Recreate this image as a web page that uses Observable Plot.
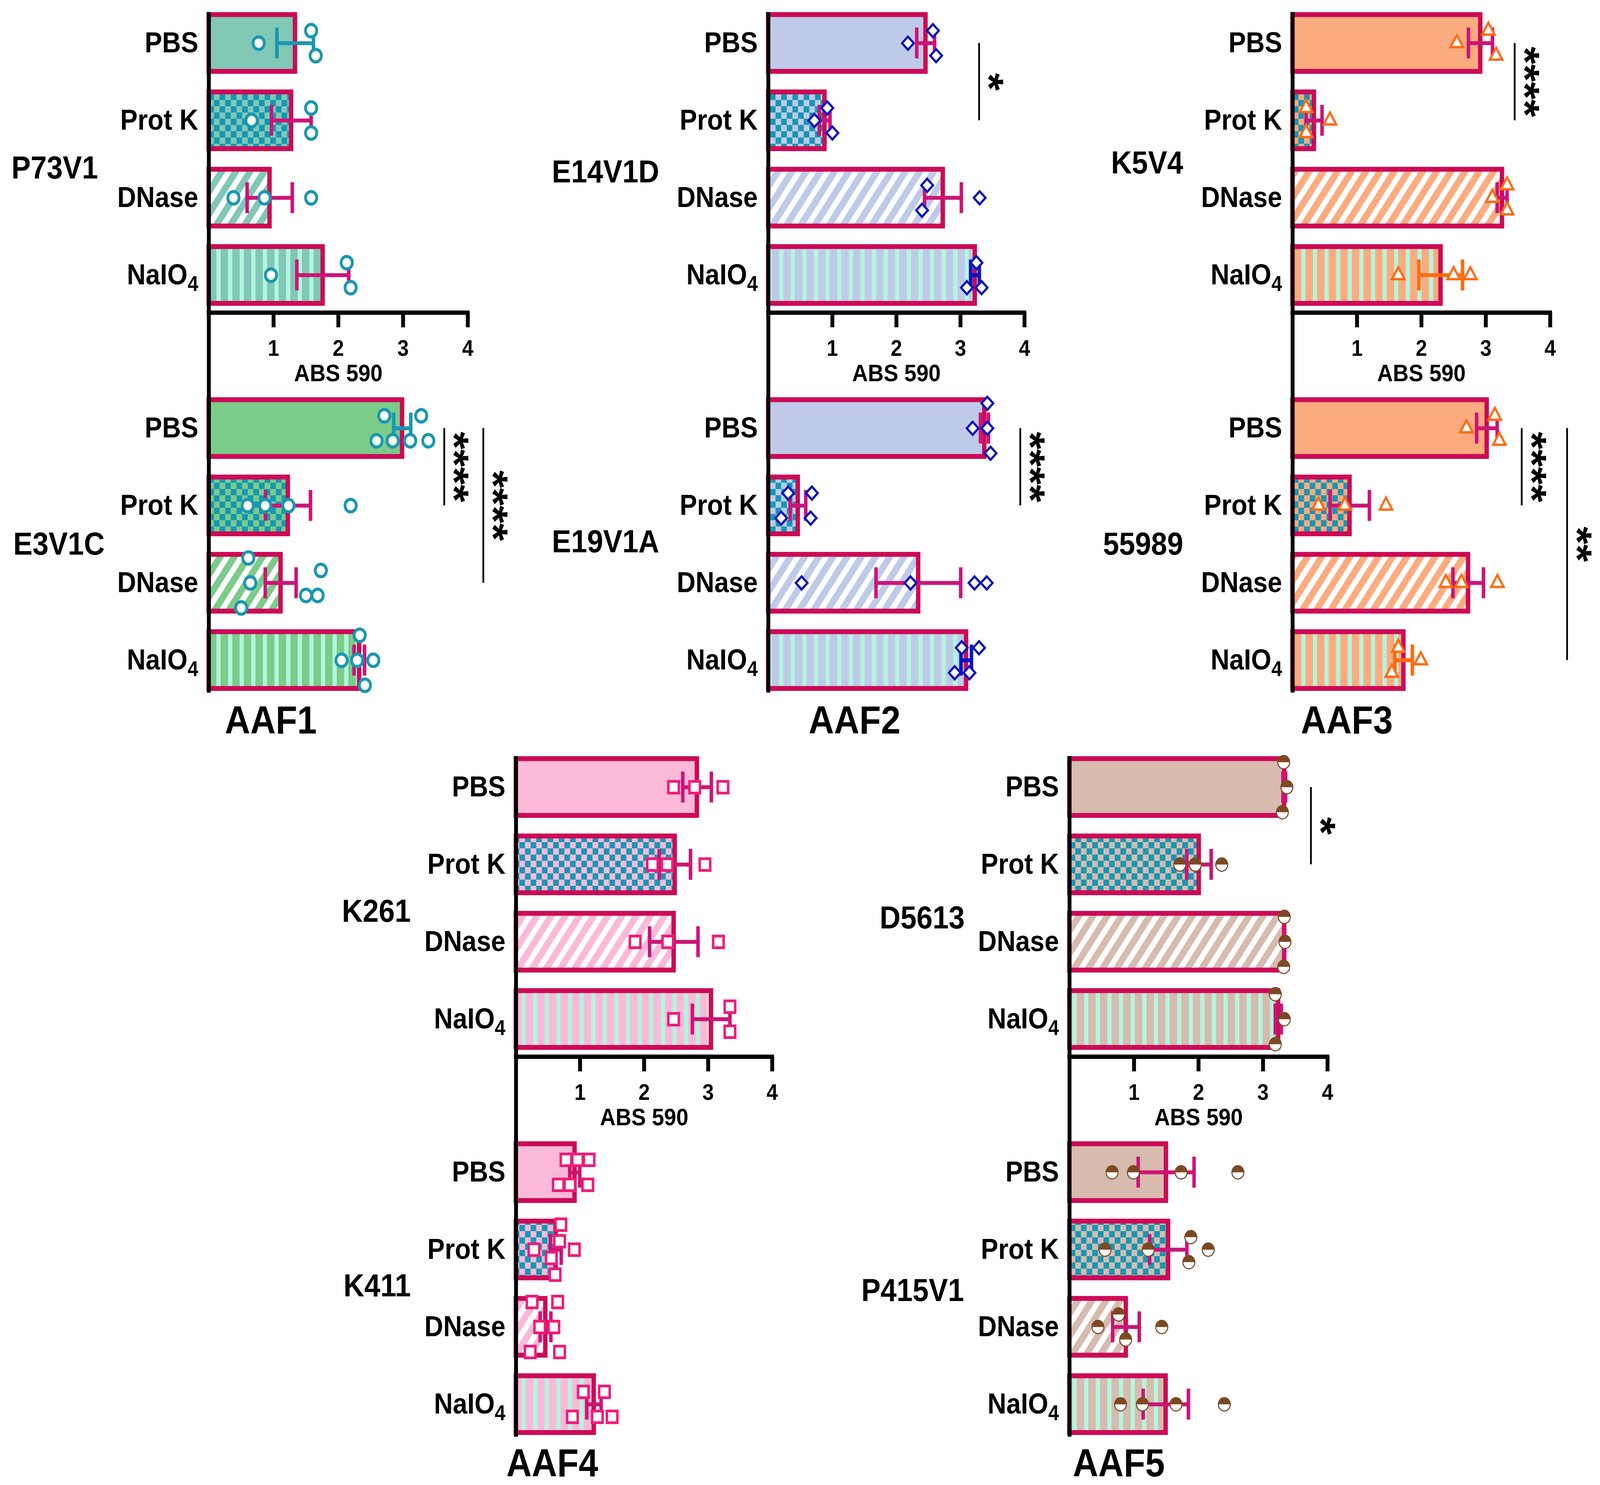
<!DOCTYPE html>
<html><head><meta charset="utf-8">
<script src="https://cdn.jsdelivr.net/npm/d3@7"></script>
<script src="https://cdn.jsdelivr.net/npm/@observablehq/plot@0.6"></script>
<style>
html,body{margin:0;padding:0;background:#fff;overflow:hidden;}
#page{position:relative;width:4547px;height:3802px;overflow:hidden;background:#fff;font-family:"Liberation Sans",Arial,Helvetica,sans-serif;transform-origin:0 0;}
.panel{position:absolute;}
.panel svg{overflow:visible;max-width:none;}
</style></head><body>
<svg width="0" height="0" style="position:absolute"><defs id="pats"></defs></svg>
<div id="page"></div>
<script>
// ---------- data ----------
const treatments = ["PBS", "Prot K", "DNase", "NaIO4"];
const xTicks = [1, 2, 3, 4];
const xLabel = "ABS 590";
const groups = ["AAF1", "AAF2", "AAF3", "AAF4", "AAF5"];

// replicate ABS 590 readings per treatment (PBS, Prot K, DNase, NaIO4)
const P73V1  = [[0.77,1.65,1.58],[0.66,1.58,1.58],[0.38,0.86,1.58],[0.96,2.19,2.13]];
const E3V1C  = [[2.59,2.84,3.11,3.39,2.71,3.28],[0.60,0.87,1.23,2.19],[0.64,0.61,0.50,1.68,1.50,1.73],[2.29,2.05,2.33,2.41,2.54]];
const E14V1D = [[2.18,2.62,2.57],[0.72,1.00,0.92],[3.30,2.40,2.48],[3.10,3.33,3.25]];
const E19V1A = [[3.19,3.42,3.42,3.47],[0.20,0.66,0.31,0.68],[0.52,2.22,3.22,3.41],[2.91,3.14,3.02,3.29]];
const K5V4   = [[2.55,3.16,3.04],[0.58,0.21,0.21],[3.10,3.33,3.33],[1.64,2.50,2.76]];
const S55989 = [[2.70,3.21,3.14],[0.40,0.81,1.45],[2.38,2.62,3.18],[1.99,1.54,1.64]];
const K261   = [[2.46,2.79,3.23],[2.13,2.36,2.95],[1.86,2.37,3.16],[2.46,3.34,3.34]];
const K411   = [[0.66,0.84,1.12,0.78,0.96,1.14],[0.28,0.91,0.55,0.68,0.61,0.70],[0.37,0.59,0.25,0.65,0.22,0.68],[0.88,1.27,1.05,1.50,1.38]];
const D5613  = [[3.37,3.32,3.30],[1.71,1.95,2.36],[3.34,3.33,3.32],[3.33,3.19,3.19]];
const P415V1 = [[0.66,0.99,1.73,2.61],[0.55,1.22,1.85,2.15,1.88],[0.44,1.43,0.87,0.76],[0.79,1.13,1.65,2.40]];

const comparisons = [
  {strain: "E3V1C",  from: "PBS", to: "Prot K", label: "****"},
  {strain: "E3V1C",  from: "PBS", to: "DNase",  label: "****"},
  {strain: "E14V1D", from: "PBS", to: "Prot K", label: "*"},
  {strain: "E19V1A", from: "PBS", to: "Prot K", label: "****"},
  {strain: "K5V4",   from: "PBS", to: "Prot K", label: "****"},
  {strain: "55989",  from: "PBS", to: "Prot K", label: "****"},
  {strain: "55989",  from: "PBS", to: "NaIO4",  label: "**"},
  {strain: "D5613",  from: "PBS", to: "Prot K", label: "*"}
];

// ---------- styles / layout ----------
const FONT = `"Liberation Sans", Arial, Helvetica, sans-serif`;
const barStroke = "#cc0a55";
const errDefault = "#cc1477";
const checkerColor = "#1597b5";
const mint = "#b3f5dd";
const barBase = {P73V1:"#80c8b5", E3V1C:"#7bcb89", E14V1D:"#bfcae9", E19V1A:"#bfcae9", K5V4:"#fcab7f", "55989":"#fcab7f", K261:"#fbb9d8", K411:"#fbb9d8", D5613:"#d6bbae", P415V1:"#d6bbae"};
const halfTop = {draw(context, size) { const r = Math.sqrt(size / Math.PI); context.moveTo(-r, 0); context.arc(0, 0, r, Math.PI, 2 * Math.PI); context.closePath(); }};
const groupStyle = {
  AAF1: {symbol: "circle",    color: "#1a97b1", r: 16, sw: 8},
  AAF2: {symbol: "diamond2",  color: "#0b14c2", r: 15, sw: 6},
  AAF3: {symbol: "triangle2", color: "#ff6b12", r: 17, sw: 6},
  AAF4: {symbol: "square2",   color: "#f01b7a", r: 19, sw: 7},
  AAF5: {symbol: "circle",    color: "#7b4a24", r: 17, sw: 3, half: true}
};
const errColor = {"P73V1|PBS":"#1a97b1", "E3V1C|PBS":"#1a97b1", "E14V1D|NaIO4":"#0b14c2", "E19V1A|NaIO4":"#0b14c2", "K5V4|NaIO4":"#ff6b12", "55989|NaIO4":"#ff6b12"};
const bracketX = {E3V1C:[1262,1373], E14V1D:[2782], E19V1A:[2899], K5V4:[4304], "55989":[4324,4453], D5613:[3725]};

const panels = [
  {strain:"P73V1",  data:P73V1,  group:"AAF1", pos:"top",    left:0,    top:0,    width:1500, height:980, x0:593,  unit:184,   yc0:110,  labelRight:278,  labelY:430},
  {strain:"E3V1C",  data:E3V1C,  group:"AAF1", pos:"bottom", left:0,    top:980,  width:1500, height:920, x0:593,  unit:184,   yc0:1096, labelRight:297,  labelY:1393, gl:[769,1845]},
  {strain:"E14V1D", data:E14V1D, group:"AAF2", pos:"top",    left:1500, top:0,    width:1550, height:980, x0:2183, unit:182,   yc0:110,  labelRight:1873, labelY:440},
  {strain:"E19V1A", data:E19V1A, group:"AAF2", pos:"bottom", left:1500, top:980,  width:1550, height:920, x0:2183, unit:182,   yc0:1096, labelRight:1873, labelY:1387, gl:[2428,1845]},
  {strain:"K5V4",   data:K5V4,   group:"AAF3", pos:"top",    left:3050, top:0,    width:1497, height:980, x0:3673, unit:183,   yc0:110,  labelRight:3362, labelY:417},
  {strain:"55989",  data:S55989, group:"AAF3", pos:"bottom", left:3050, top:980,  width:1497, height:920, x0:3673, unit:183,   yc0:1096, labelRight:3362, labelY:1393, gl:[3827,1845]},
  {strain:"K261",   data:K261,   group:"AAF4", pos:"top",    left:900,  top:1900, width:1500, height:980, x0:1466, unit:182,   yc0:2015, labelRight:1167, labelY:2333},
  {strain:"K411",   data:K411,   group:"AAF4", pos:"bottom", left:900,  top:2880, width:1500, height:922, x0:1466, unit:182,   yc0:3001, labelRight:1167, labelY:3292, gl:[1569,3747]},
  {strain:"D5613",  data:D5613,  group:"AAF5", pos:"top",    left:2400, top:1900, width:1500, height:980, x0:3039, unit:183.3, yc0:2015, labelRight:2741, labelY:2350},
  {strain:"P415V1", data:P415V1, group:"AAF5", pos:"bottom", left:2400, top:2880, width:1500, height:922, x0:3039, unit:183.3, yc0:3001, labelRight:2739, labelY:3304, gl:[3179,3747]}
];

// ---------- patterns ----------
const pid = s => "s" + s.replace(/\W/g, "");
let defs = "";
for (const [s, base] of Object.entries(barBase)) {
  const id = pid(s);
  defs += `<pattern id="chk-${id}" width="32" height="32" patternUnits="userSpaceOnUse"><rect width="32" height="32" fill="${base}"/><rect width="16" height="16" fill="${checkerColor}"/><rect x="16" y="16" width="16" height="16" fill="${checkerColor}"/></pattern>`;
  defs += `<pattern id="dia-${id}" width="33" height="40" patternUnits="userSpaceOnUse" patternTransform="rotate(35)"><rect width="33" height="40" fill="#ffffff"/><rect width="18" height="40" fill="${base}"/></pattern>`;
  defs += `<pattern id="ver-${id}" width="33" height="40" patternUnits="userSpaceOnUse"><rect width="33" height="40" fill="${base}"/><rect x="21" width="12" height="40" fill="${mint}"/></pattern>`;
}
document.getElementById("pats").innerHTML = defs;
function fillFor(strain, i) {
  const id = pid(strain);
  return [barBase[strain], `url(#chk-${id})`, `url(#dia-${id})`, `url(#ver-${id})`][i];
}

// vertical spreading of overlapping replicate points (lanes), computed in pixels
function laneOffsets(values, unit) {
  const thr = 32, clusterThr = 36, order = [0, -1, 1, -2, 2, -3, 3];
  const px = values.map(v => v * unit);
  const lanes = [];
  values.forEach((v, i) => {
    for (const L of order) {
      let ok = true;
      for (let j = 0; j < i; j++) if (lanes[j] === L && Math.abs(px[i] - px[j]) < thr) { ok = false; break; }
      if (ok) { lanes[i] = L; break; }
    }
  });
  const idx = d3.range(values.length).sort((a, b) => px[a] - px[b]);
  const clusters = []; let cur = [idx[0]];
  for (let k = 1; k < idx.length; k++) {
    if (px[idx[k]] - px[idx[k - 1]] < clusterThr) cur.push(idx[k]); else { clusters.push(cur); cur = [idx[k]]; }
  }
  clusters.push(cur);
  const off = [];
  for (const c of clusters) {
    const ls = c.map(i => lanes[i]);
    const lo = d3.min(ls), hi = d3.max(ls), mid = (lo + hi) / 2, span = hi - lo;
    const spacing = span > 2 ? 128 / span : 64;
    c.forEach(i => off[i] = (lanes[i] - mid) * spacing);
  }
  return off;
}

const page = document.getElementById("page");
const step = 198;

for (const cfg of panels) {
  const {strain, data, group, pos, left, top, width, height, x0, unit, yc0} = cfg;
  const isTop = pos === "top";
  const yMax = isTop ? 3.485 : 3.5;
  const marginLeft = x0 - left;
  const marginRight = width - marginLeft - 4 * unit;
  const marginTop = yc0 - 0.5 * step - top;
  const marginBottom = height - (yc0 + yMax * step - top);
  const toX = px => (px - x0) / unit;
  const toY = py => (py - yc0) / step;
  const gs = groupStyle[group];

  const bars = treatments.map((t, i) => {
    const v = data[i];
    return {t, i, mean: d3.mean(v), sem: d3.deviation(v) / Math.sqrt(v.length),
            fill: fillFor(strain, i), err: errColor[strain + "|" + t] ?? errDefault};
  });
  const caps = bars.flatMap(d => [{...d, x: d.mean - d.sem}, {...d, x: d.mean + d.sem}]);
  const pts = treatments.flatMap((t, i) => {
    const off = laneOffsets(data[i], unit);
    return data[i].map((value, k) => ({t, i, value, y: i + off[k] / step}));
  });
  const comps = comparisons.filter(c => c.strain === strain).map((c, k) => ({
    ...c, x: toX(bracketX[strain][k]), i1: treatments.indexOf(c.from), i2: treatments.indexOf(c.to)
  }));

  const marks = [
    Plot.rect(bars, {x1: 0, x2: "mean", y1: d => d.i - 0.367, y2: d => d.i + 0.367, fill: "fill", stroke: barStroke, strokeWidth: 12.5}),
    Plot.ruleX([0], {y1: isTop ? -0.40 : toY(top), y2: isTop ? toY(top + height) : 3.42, stroke: "black", strokeWidth: 11}),
    Plot.ruleY(bars, {y: "i", x1: d => d.mean - d.sem, x2: d => d.mean + d.sem, stroke: "err", strokeWidth: 10}),
    Plot.ruleX(caps, {x: "x", y1: d => d.i - 0.2, y2: d => d.i + 0.2, stroke: "err", strokeWidth: 10}),
    Plot.dot(pts, {x: "value", y: "y", symbol: gs.symbol, r: gs.r, stroke: gs.color, fill: "white", strokeWidth: gs.sw}),
    gs.half ? Plot.dot(pts, {x: "value", y: "y", symbol: halfTop, r: gs.r, fill: gs.color, stroke: "none"}) : null,
    Plot.ruleX(comps, {x: "x", y1: "i1", y2: "i2", stroke: "black", strokeWidth: 5}),
    Plot.text(comps, {x: d => d.x + 26 / unit, y: d => (d.i1 + d.i2) / 2, text: "label", rotate: 90, fontSize: 116, fontWeight: "bold"}),
    Plot.axisY([0, 1, 2, 3], {tickFormat: i => treatments[i], tickSize: 0, tickPadding: 30, fontSize: 74, fontWeight: "bold", label: null}),
    Plot.text([strain], {x: toX(cfg.labelRight), y: toY(cfg.labelY), text: d => d, textAnchor: "end", fontSize: 82, fontWeight: "bold"})
  ];
  if (isTop) {
    marks.push(
      Plot.ruleY([yMax], {x1: 0, x2: 4, stroke: "black", strokeWidth: 11, strokeLinecap: "square"}),
      Plot.axisX(xTicks, {tickSize: 38, tickPadding: 31, strokeWidth: 11, fontSize: 58, fontWeight: "bold", label: null, tickFormat: d => String(d)}),
      Plot.text([xLabel], {x: 2, y: 4.27, text: d => d, fontSize: 62, fontWeight: "bold"})
    );
  } else {
    marks.push(Plot.text([group], {x: toX(cfg.gl[0]), y: toY(cfg.gl[1]), text: d => d, fontSize: 100, fontWeight: "bold"}));
  }

  const svg = Plot.plot({
    width, height, marginLeft, marginRight, marginTop, marginBottom,
    x: {domain: [0, 4], axis: isTop ? undefined : null},
    y: {domain: [-0.5, yMax], reverse: true},
    color: {type: "identity"},
    style: {fontFamily: FONT, fontWeight: "bold", color: "black", background: "transparent", overflow: "visible", maxWidth: "none"},
    marks
  });
  svg.querySelectorAll("text").forEach(t => {
    if (t.textContent === "NaIO4") {
      t.textContent = "NaIO";
      const ts = document.createElementNS("http://www.w3.org/2000/svg", "tspan");
      ts.setAttribute("dy", "0.3em");
      ts.setAttribute("font-size", "0.74em");
      ts.textContent = "4";
      t.appendChild(ts);
    }
  });
  const div = document.createElement("div");
  div.className = "panel";
  div.style.left = left + "px";
  div.style.top = top + "px";
  div.style.width = width + "px";
  div.style.height = height + "px";
  div.appendChild(svg);
  page.appendChild(div);
}

// map the 4547×3802 figure onto the actual viewport
function fit() {
  const sx = window.innerWidth / 4547, sy = window.innerHeight / 3802;
  page.style.transform = (Math.abs(sx - 1) < 0.001 && Math.abs(sy - 1) < 0.001) ? "" : `scale(${sx}, ${sy})`;
}
fit();
window.addEventListener("resize", fit);
</script>
</body></html>
